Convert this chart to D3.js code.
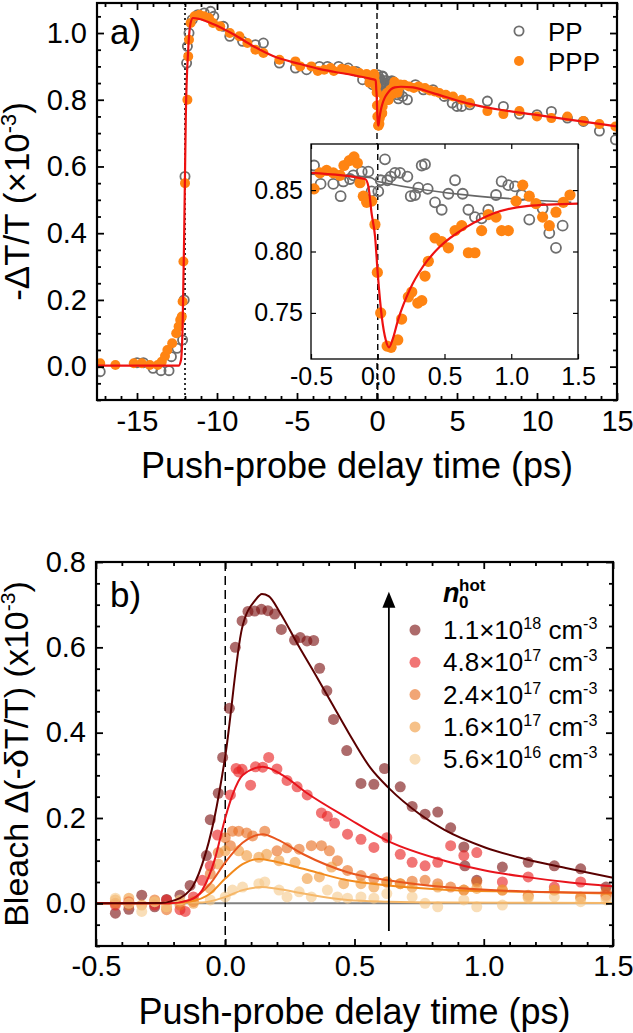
<!DOCTYPE html>
<html><head><meta charset="utf-8">
<script src="https://cdn.jsdelivr.net/npm/d3@7"></script>
<style>
html,body{margin:0;padding:0;background:#fff;}
svg{display:block;}
</style>
</head><body>
<svg id="c" width="633" height="1033"></svg>
<script>
// ---------------- DATA : panel a ----------------
const ppMain = [[-17.3,-0.015],[-15.0,0.012],[-14.6,0.012],[-14.0,-0.005],[-13.5,-0.012],[-13.0,-0.012],[-12.85,0.03],[-12.5,0.055],[-12.15,0.08],[-12.05,0.2],[-12.0,0.57],[-11.9,0.91],[-11.85,0.96],[-11.75,1.0],[-11.55,1.04],[-11.2,1.055],[-10.8,1.06],[-10.4,1.065],[-10.2,1.05],[-9.6,1.02],[-9.2,0.99],[-8.4,0.975],[-7.6,0.965],[-7.1,0.97],[-6.1,0.91],[-5.1,0.895],[-4.4,0.89],[-3.6,0.9],[-3.1,0.9],[-2.4,0.9],[-1.8,0.895],[-1.3,0.885],[-0.9,0.86],[1.6,0.81],[1.9,0.80],[2.4,0.845],[2.9,0.83],[3.5,0.83],[4.2,0.81],[4.7,0.79],[5.0,0.78],[5.3,0.78],[5.8,0.785],[6.9,0.796],[7.9,0.78],[8.9,0.757],[10.0,0.755],[10.9,0.765],[11.9,0.745],[12.9,0.735],[13.9,0.706],[14.9,0.68]];
const pppMain = [[-17.3,0.01],[-16.35,0.005],[-15.2,0.01],[-14.7,0.01],[-14.2,0.005],[-13.7,0.005],[-13.45,0.015],[-13.25,0.032],[-13.1,0.05],[-12.8,0.07],[-12.55,0.1],[-12.4,0.12],[-12.3,0.14],[-12.2,0.15],[-12.15,0.195],[-12.1,0.315],[-12.0,0.55],[-11.85,0.80],[-11.8,0.93],[-11.75,0.98],[-11.65,1.03],[-11.4,1.05],[-11.1,1.055],[-10.8,1.05],[-10.5,1.045],[-10.25,1.03],[-9.8,1.02],[-9.2,1.0],[-8.6,0.99],[-8.1,0.97],[-7.6,0.95],[-7.1,0.94],[-6.1,0.92],[-5.1,0.915],[-4.8,0.90],[-4.1,0.90],[-3.7,0.886],[-3.3,0.89],[-2.9,0.895],[-2.7,0.886],[-2.2,0.893],[-1.9,0.89],[-1.5,0.886],[-1.1,0.88],[-0.65,0.877],[1.7,0.845],[2.0,0.84],[2.3,0.835],[2.6,0.84],[3.0,0.835],[3.3,0.828],[3.6,0.825],[3.9,0.82],[4.3,0.815],[4.75,0.81],[5.3,0.80],[5.8,0.79],[6.9,0.766],[7.9,0.757],[8.9,0.766],[10.0,0.75],[10.9,0.745],[11.9,0.75],[12.9,0.736],[13.9,0.727],[14.9,0.72]];
// points inside the inset window (also plotted in the main panel)
const ppNear = [[-0.477,0.870],[-0.428,0.855],[-0.333,0.855],[-0.278,0.845],[-0.258,0.857],[-0.208,0.859],[-0.183,0.862],[-0.120,0.865],[-0.071,0.865],[-0.046,0.849],[0.004,0.849],[0.022,0.858],[0.054,0.875],[0.072,0.858],[0.097,0.861],[0.129,0.864],[0.167,0.864],[0.222,0.861],[0.247,0.845],[0.279,0.846],[0.304,0.852],[0.329,0.870],[0.354,0.871],[0.374,0.851],[0.429,0.840],[0.479,0.834],[0.529,0.847],[0.579,0.858],[0.636,0.847],[0.679,0.834],[0.728,0.828],[0.778,0.827],[0.828,0.834],[0.886,0.846],[0.928,0.857],[0.978,0.854],[1.028,0.853],[1.078,0.846],[1.135,0.826],[1.235,0.835],[1.285,0.815],[1.335,0.803],[1.385,0.821]];
const pppNear = [[-0.477,0.851],[-0.433,0.864],[-0.383,0.866],[-0.333,0.864],[-0.283,0.862],[-0.253,0.870],[-0.213,0.874],[-0.178,0.877],[-0.153,0.872],[-0.133,0.856],[-0.108,0.845],[-0.083,0.840],[-0.045,0.841],[-0.021,0.822],[-0.003,0.783],[0.022,0.750],[0.07,0.723],[0.1,0.722],[0.15,0.728],[0.179,0.745],[0.229,0.763],[0.255,0.767],[0.30,0.758],[0.33,0.760],[0.354,0.780],[0.379,0.792],[0.429,0.811],[0.479,0.808],[0.529,0.803],[0.579,0.817],[0.629,0.821],[0.679,0.799],[0.728,0.799],[0.778,0.817],[0.828,0.830],[0.886,0.828],[0.928,0.817],[0.978,0.817],[1.036,0.841],[1.086,0.854],[1.135,0.845],[1.185,0.839],[1.235,0.828],[1.285,0.821],[1.335,0.832],[1.390,0.840],[1.440,0.846]];
const pppFit = [[-17.5,0.003],[-12.4,0.003],[-12.25,0.02],[-12.15,0.12],[-12.05,0.4],[-11.95,0.75],[-11.8,0.95],[-11.65,1.03],[-11.5,1.045],[-11.1,1.042],[-10.25,1.027],[-9.0,0.997],[-7.75,0.961],[-6.5,0.931],[-4.8,0.907],[-3.56,0.892],[-2.7,0.884],[-1.5,0.874],[-0.5,0.864],[-0.095,0.859],[-0.07,0.853],[-0.046,0.831],[-0.02,0.812],[0,0.782],[0.03,0.747],[0.06,0.728],[0.085,0.722],[0.11,0.728],[0.154,0.745],[0.24,0.769],[0.34,0.788],[0.466,0.804],[0.666,0.82],[0.866,0.831],[1.115,0.837],[1.5,0.839],[2.25,0.837],[3.5,0.82],[5.6,0.79],[7.7,0.77],[9.75,0.756],[11.9,0.741],[15,0.72]];
const ppFitInset = [[-0.5,0.863],[-0.05,0.860],[0.0,0.857],[1.45,0.840]];
const aXTicks = [-15,-10,-5,0,5,10,15];
const aYTicks = [0.0,0.2,0.4,0.6,0.8,1.0];
const insetXTicks = [-0.5,0.0,0.5,1.0,1.5];
const insetYTicks = [0.75,0.80,0.85];
const aLegend = ["PP","PPP"];

// ---------------- DATA : panel b ----------------
const densities = [
  [{t:"1.1×10"},{t:"18",sup:1},{t:" cm"},{t:"-3",sup:1}],
  [{t:"4.8×10"},{t:"17",sup:1},{t:" cm"},{t:"-3",sup:1}],
  [{t:"2.4×10"},{t:"17",sup:1},{t:" cm"},{t:"-3",sup:1}],
  [{t:"1.6×10"},{t:"17",sup:1},{t:" cm"},{t:"-3",sup:1}],
  [{t:"5.6×10"},{t:"16",sup:1},{t:" cm"},{t:"-3",sup:1}]
];
const b1Points = [[-0.425,-0.023],[-0.373,-0.014],[-0.323,0.019],[-0.273,-0.008],[-0.227,0.009],[-0.175,0.019],[-0.136,0.042],[-0.073,0.112],[-0.058,0.196],[-0.027,0.258],[-0.01,0.342],[0.016,0.457],[0.039,0.60],[0.065,0.662],[0.088,0.684],[0.114,0.685],[0.140,0.689],[0.165,0.686],[0.191,0.678],[0.217,0.642],[0.268,0.617],[0.290,0.623],[0.316,0.615],[0.342,0.616],[0.365,0.551],[0.393,0.498],[0.419,0.431],[0.47,0.358],[0.525,0.281],[0.575,0.279],[0.616,0.316],[0.677,0.273],[0.723,0.227],[0.773,0.209],[0.822,0.214],[0.872,0.177],[0.923,0.132],[0.927,0.088],[0.973,0.054],[1.072,0.085],[1.172,0.096],[1.273,0.088],[1.375,0.081],[1.473,0.038]];
const b2Points = [[-0.425,-0.004],[-0.373,0.004],[-0.273,-0.004],[-0.227,0.008],[-0.175,-0.015],[-0.155,-0.019],[-0.123,0.015],[-0.089,0.054],[-0.058,0.088],[-0.03,0.16],[0.02,0.254],[0.042,0.316],[0.052,0.308],[0.065,0.314],[0.098,0.277],[0.117,0.32],[0.145,0.319],[0.168,0.342],[0.2,0.315],[0.239,0.288],[0.278,0.273],[0.317,0.254],[0.372,0.212],[0.395,0.204],[0.423,0.188],[0.473,0.162],[0.525,0.15],[0.575,0.131],[0.625,0.154],[0.677,0.115],[0.723,0.096],[0.773,0.088],[0.822,0.096],[0.872,0.135],[0.923,0.112],[0.973,0.119],[1.072,0.05],[1.172,0.062],[1.273,0.038],[1.375,0.05],[1.473,0.019]];
const b3Points = [[-0.425,0.0],[-0.373,-0.004],[-0.273,0.008],[-0.227,-0.015],[-0.175,-0.004],[-0.123,0.004],[-0.058,0.069],[-0.027,0.119],[0,0.154],[0.02,0.135],[0.028,0.169],[0.052,0.169],[0.083,0.165],[0.106,0.158],[0.153,0.169],[0.2,0.123],[0.239,0.13],[0.286,0.127],[0.333,0.135],[0.372,0.135],[0.403,0.123],[0.434,0.1],[0.473,0.077],[0.525,0.065],[0.575,0.058],[0.625,0.05],[0.677,0.046],[0.723,0.052],[0.773,0.054],[0.822,0.046],[0.872,0.038],[0.923,0.031],[0.973,0.05],[1.072,0.031],[1.172,0.019],[1.273,0.031],[1.375,0.015],[1.473,0.027]];
const b4Points = [[-0.425,0.008],[-0.373,0.012],[-0.323,-0.004],[-0.273,0.004],[-0.227,-0.008],[-0.175,0.004],[-0.123,0.0],[-0.058,0.035],[-0.027,0.092],[0,0.123],[0.052,0.123],[0.083,0.112],[0.13,0.108],[0.16,0.115],[0.208,0.1],[0.27,0.096],[0.317,0.058],[0.364,0.062],[0.411,0.085],[0.458,0.046],[0.525,0.046],[0.575,0.038],[0.625,0.05],[0.677,0.046],[0.723,0.038],[0.822,0.038],[0.923,0.031],[0.973,0.035],[1.072,0.031],[1.172,0.015],[1.273,0.031],[1.375,0.012],[1.473,0.015]];
const b5Points = [[-0.425,0.012],[-0.373,0.0],[-0.323,-0.019],[-0.273,0.004],[-0.227,-0.008],[-0.175,0.008],[-0.058,0.008],[0,0.015],[0.028,0.031],[0.067,0.038],[0.13,0.046],[0.153,0.05],[0.208,0.031],[0.239,0.015],[0.286,0.027],[0.333,0.015],[0.395,0.031],[0.434,0.015],[0.473,0.012],[0.525,0.015],[0.575,0.012],[0.625,0.023],[0.723,0.015],[0.773,0.0],[0.822,-0.008],[0.923,0.008],[0.973,-0.008],[1.072,-0.004],[1.172,0.012],[1.273,0.015],[1.375,0.004],[1.473,0.008]];
const b1Fit = [[-0.5,0],[-0.25,0.001],[-0.214,0.004],[-0.136,0.031],[-0.089,0.092],[-0.042,0.2],[0,0.345],[0.065,0.645],[0.117,0.711],[0.142,0.725],[0.168,0.72],[0.213,0.68],[0.284,0.603],[0.348,0.537],[0.412,0.469],[0.477,0.40],[0.561,0.318],[0.633,0.27],[0.75,0.21],[0.848,0.172],[1.005,0.131],[1.16,0.104],[1.317,0.083],[1.5,0.06]];
const b2Fit = [[-0.5,0],[-0.214,0.0],[-0.136,0.008],[-0.089,0.031],[-0.042,0.1],[0,0.2],[0.028,0.254],[0.067,0.3],[0.145,0.32],[0.223,0.3],[0.317,0.258],[0.473,0.2],[0.63,0.146],[0.848,0.1],[1.005,0.077],[1.16,0.062],[1.317,0.05],[1.5,0.04]];
const b3Fit = [[-0.5,0],[-0.214,0.0],[-0.136,0.008],[-0.058,0.046],[0,0.096],[0.067,0.142],[0.145,0.162],[0.2,0.15],[0.302,0.115],[0.473,0.073],[0.63,0.054],[0.848,0.038],[1.16,0.028],[1.5,0.025]];
const b4Fit = [[-0.5,0],[-0.214,0.0],[-0.136,0.004],[-0.058,0.023],[0,0.058],[0.067,0.092],[0.13,0.104],[0.2,0.097],[0.302,0.081],[0.473,0.054],[0.63,0.042],[0.848,0.032],[1.16,0.027],[1.5,0.023]];
const b5Fit = [[-0.5,0],[-0.089,0.002],[0,0.015],[0.067,0.031],[0.138,0.038],[0.2,0.034],[0.302,0.023],[0.473,0.008],[0.63,0.004],[0.848,0.002],[1.5,0.001]];
const bXTicks = [-0.5,0.0,0.5,1.0,1.5];
const bYTicks = [0.0,0.2,0.4,0.6,0.8];
const arrowT = 0.633, arrowFrom = -0.065, arrowTo = 0.73;

// ---------------- STYLE ----------------
const FONT = '"Liberation Sans", Arial, Helvetica, sans-serif';
const ORANGE = "#ff8412", GRAYPT = "#6e6e6e", FITRED = "#ee1111";
const ptColors = ["#7a1010","#e82020","#e86d20","#f09b3f","#f5c98c"];
const lnColors = ["#5a0000","#e8141c","#e8561e","#f28a1c","#f6b86a"];

const svg = d3.select("#c");
const fmtDash = f => (v => { const s = d3.format(f)(v); return s.replace("−","-"); });

function richText(sel, parts, fs){
  let shift = 0;
  parts.forEach(p => {
    const ts = sel.append("tspan").text(p.t);
    if (p.sup){ const s = -fs*0.38; ts.attr("font-size", fs*0.62).attr("dy", s-shift); shift = s; }
    else { ts.attr("dy", -shift); shift = 0; }
  });
}

function drawAxes(g, x, y, o){
  const [x0,x1] = x.range(), [y0,y1] = y.range();
  const mk = (fn, sc, vals, size, fmt, tr, pad, fs) => {
    const a = fn(sc).tickValues(vals).tickSize(size).tickPadding(pad).tickFormat(fmt || (()=>""));
    const gg = g.append("g").attr("transform", tr).call(a);
    gg.select(".domain").remove();
    gg.selectAll("line").attr("stroke","#000").attr("stroke-width", o.tw);
    gg.selectAll("text").attr("font-size", fs||o.fs).attr("font-family", FONT).attr("fill","#000");
    return gg;
  };
  mk(d3.axisBottom, x, o.xMajor, -o.maj, o.xFmt, `translate(0,${y0})`, o.xPad);
  mk(d3.axisTop,    x, o.xMajor, -o.maj, null, `translate(0,${y1})`, 0);
  mk(d3.axisLeft,   y, o.yMajor, -o.maj, o.yFmt, `translate(${x0},0)`, o.yPad);
  mk(d3.axisRight,  y, o.yMajor, -o.maj, null, `translate(${x1},0)`, 0);
  if (o.xMinor){
    mk(d3.axisBottom, x, o.xMinor, -o.min, null, `translate(0,${y0})`, 0);
    mk(d3.axisTop,    x, o.xMinor, -o.min, null, `translate(0,${y1})`, 0);
  }
  if (o.yMinor){
    mk(d3.axisLeft,  y, o.yMinor, -o.min, null, `translate(${x0},0)`, 0);
    mk(d3.axisRight, y, o.yMinor, -o.min, null, `translate(${x1},0)`, 0);
  }
  g.append("rect").attr("x",x0).attr("y",y1).attr("width",x1-x0).attr("height",y0-y1)
    .attr("fill","none").attr("stroke","#000").attr("stroke-width",o.fw);
}

// ================= PANEL A =================
const A = {l:97, r:617, t:3, b:400};
const xA = d3.scaleLinear().domain([-17.5,15]).range([A.l,A.r]);
const yA = d3.scaleLinear().domain([-0.1,1.09]).range([A.b,A.t]);
const gA = svg.append("g");
svg.append("defs").append("clipPath").attr("id","clipA").append("rect")
  .attr("x",A.l).attr("y",A.t).attr("width",A.r-A.l).attr("height",A.b-A.t);

gA.append("line").attr("x1",xA(-12)).attr("x2",xA(-12)).attr("y1",A.t).attr("y2",A.b)
  .attr("stroke","#000").attr("stroke-width",1.6).attr("stroke-dasharray","2,3");
gA.append("line").attr("x1",xA(0)).attr("x2",xA(0)).attr("y1",A.t).attr("y2",A.b)
  .attr("stroke","#000").attr("stroke-width",1.4).attr("stroke-dasharray","6,4");

const ppAll = ppMain.concat(ppNear).sort((a,b)=>a[0]-b[0]);
const pppAll = pppMain.concat(pppNear).sort((a,b)=>a[0]-b[0]);
const gAd = gA.append("g").attr("clip-path","url(#clipA)");
gAd.selectAll("circle.pp").data(ppAll).join("circle").attr("class","pp")
  .attr("cx",d=>xA(d[0])).attr("cy",d=>yA(d[1])).attr("r",4.6)
  .attr("fill","none").attr("stroke",GRAYPT).attr("stroke-width",1.8);
gAd.selectAll("circle.ppp").data(pppAll).join("circle").attr("class","ppp")
  .attr("cx",d=>xA(d[0])).attr("cy",d=>yA(d[1])).attr("r",5)
  .attr("fill",ORANGE);
const lineA = d3.line().x(d=>xA(d[0])).y(d=>yA(d[1])).curve(d3.curveMonotoneX);
gAd.append("path").datum(pppFit).attr("d",lineA).attr("fill","none").attr("stroke",FITRED).attr("stroke-width",2.2);

drawAxes(gA, xA, yA, {
  xMajor:aXTicks, xMinor:d3.range(-17,16).filter(v=>v%5!==0),
  yMajor:aYTicks, yMinor:d3.range(-2,22).filter(i=>i%4!==0).map(i=>i*0.05),
  xFmt:fmtDash("d"), yFmt:fmtDash(".1f"), fs:29, maj:7, min:4, tw:1.8, fw:2.2, xPad:10, yPad:10
});

const legA = gA.append("g");
legA.append("circle").attr("cx",519).attr("cy",31).attr("r",4.6).attr("fill","none").attr("stroke",GRAYPT).attr("stroke-width",1.8);
legA.append("circle").attr("cx",519).attr("cy",61).attr("r",5).attr("fill",ORANGE);
legA.selectAll("text").data(aLegend).join("text").attr("x",548).attr("y",(d,i)=>41+i*30)
  .attr("font-size",26).attr("font-family",FONT).text(d=>d);

gA.append("text").attr("x",110).attr("y",44).attr("font-size",35).attr("font-family",FONT).text("a)");

// ---- inset ----
const I = {l:311, r:578, t:144, b:359};
const xI = d3.scaleLinear().domain([-0.5,1.5]).range([I.l,I.r]);
const yI = d3.scaleLinear().domain([0.7125,0.8875]).range([I.b,I.t]);
const gI = svg.append("g");
gI.append("rect").attr("x",I.l).attr("y",I.t).attr("width",I.r-I.l).attr("height",I.b-I.t).attr("fill","#fff");
svg.select("defs").append("clipPath").attr("id","clipI").append("rect")
  .attr("x",I.l).attr("y",I.t).attr("width",I.r-I.l).attr("height",I.b-I.t);
gI.append("line").attr("x1",xI(0)).attr("x2",xI(0)).attr("y1",I.t).attr("y2",A.b)
  .attr("stroke","#000").attr("stroke-width",1.4).attr("stroke-dasharray","6,4");
const gId = gI.append("g").attr("clip-path","url(#clipI)");
const lineI = d3.line().x(d=>xI(d[0])).y(d=>yI(d[1])).curve(d3.curveMonotoneX);
gId.selectAll("circle.pp").data(ppNear).join("circle").attr("class","pp")
  .attr("cx",d=>xI(d[0])).attr("cy",d=>yI(d[1])).attr("r",5)
  .attr("fill","none").attr("stroke",GRAYPT).attr("stroke-width",1.8);
gId.append("path").datum(ppFitInset).attr("d",lineI).attr("fill","none").attr("stroke","#666").attr("stroke-width",1.6);
gId.selectAll("circle.ppp").data(pppNear).join("circle").attr("class","ppp")
  .attr("cx",d=>xI(d[0])).attr("cy",d=>yI(d[1])).attr("r",5.6).attr("fill",ORANGE);
gId.append("path").datum(pppFit.filter(d=>d[0]>=-0.6&&d[0]<=1.6)).attr("d",lineI).attr("fill","none").attr("stroke",FITRED).attr("stroke-width",2.2);
drawAxes(gI, xI, yI, {
  xMajor:insetXTicks, yMajor:insetYTicks,
  xFmt:fmtDash(".1f"), yFmt:fmtDash(".2f"), fs:25, maj:5, min:3, tw:1.2, fw:1.3, xPad:8, yPad:8
});

const ta = svg.append("text").attr("font-family",FONT).attr("font-size",35).attr("text-anchor","middle")
  .attr("transform",`translate(29,${(A.t+A.b)/2}) rotate(-90)`).attr("dy","0.35em");
richText(ta, [{t:"-ΔT/T (×10"},{t:"-3",sup:1},{t:")"}], 35);
svg.append("text").attr("font-family",FONT).attr("font-size",36).attr("text-anchor","middle")
  .attr("x",(A.l+A.r)/2).attr("y",465).attr("dy","0.35em").text("Push-probe delay time (ps)");

// ================= PANEL B =================
const B = {l:96, r:613, t:562, b:946};
const xB = d3.scaleLinear().domain([-0.5,1.5]).range([B.l,B.r]);
const yB = d3.scaleLinear().domain([-0.1,0.8]).range([B.b,B.t]);
const gB = svg.append("g");
svg.select("defs").append("clipPath").attr("id","clipB").append("rect")
  .attr("x",B.l).attr("y",B.t).attr("width",B.r-B.l).attr("height",B.b-B.t);
const gBd = gB.append("g").attr("clip-path","url(#clipB)");
gBd.append("line").attr("x1",xB(-0.5)).attr("x2",xB(1.5)).attr("y1",yB(0)).attr("y2",yB(0))
  .attr("stroke","#808080").attr("stroke-width",2);
gBd.append("line").attr("x1",xB(0)).attr("x2",xB(0)).attr("y1",B.t).attr("y2",B.b)
  .attr("stroke","#000").attr("stroke-width",1.5).attr("stroke-dasharray","9,5");

const bPoints = [b1Points,b2Points,b3Points,b4Points,b5Points];
const bFits = [b1Fit,b2Fit,b3Fit,b4Fit,b5Fit];
bPoints.forEach((pts,i)=>{
  gBd.append("g").selectAll("circle").data(pts).join("circle")
    .attr("cx",d=>xB(d[0])).attr("cy",d=>yB(d[1])).attr("r",5.5)
    .attr("fill",ptColors[i]).attr("fill-opacity",0.62);
});
const lineB = d3.line().x(d=>xB(d[0])).y(d=>yB(d[1])).curve(d3.curveMonotoneX);
bFits.slice().reverse().forEach((f,j)=>{
  const i = bFits.length-1-j;
  gBd.append("path").datum(f).attr("d",lineB).attr("fill","none").attr("stroke",lnColors[i]).attr("stroke-width",2);
});

const ax0 = xB(arrowT), ayTip = yB(arrowTo);
gB.append("line").attr("x1",ax0).attr("x2",ax0).attr("y1",yB(arrowFrom)).attr("y2",ayTip+12)
  .attr("stroke","#000").attr("stroke-width",1.8);
gB.append("path").attr("d",`M${ax0},${ayTip} L${ax0-6.5},${ayTip+16} L${ax0+6.5},${ayTip+16} Z`).attr("fill","#000");

drawAxes(gB, xB, yB, {
  xMajor:bXTicks, xMinor:d3.range(-4,15).filter(i=>i%5!==0).map(i=>i*0.1),
  yMajor:bYTicks, yMinor:d3.range(-2,16).filter(i=>i%4!==0).map(i=>i*0.05),
  xFmt:fmtDash(".1f"), yFmt:fmtDash(".1f"), fs:29, maj:7, min:4, tw:1.8, fw:2.2, xPad:9, yPad:10
});

gB.append("text").attr("x",110).attr("y",607).attr("font-size",35).attr("font-family",FONT).text("b)");

const legB = gB.append("g").attr("font-family",FONT);
legB.append("text").attr("x",443).attr("y",602).attr("font-size",27).attr("font-weight","bold").attr("font-style","italic").text("n");
legB.append("text").attr("x",459).attr("y",608).attr("font-size",17).attr("font-weight","bold").text("0");
legB.append("text").attr("x",459).attr("y",591).attr("font-size",17).attr("font-weight","bold").text("hot");
densities.forEach((parts,i)=>{
  const cy = 630 + i*32.3;
  legB.append("circle").attr("cx",415).attr("cy",cy).attr("r",5.5).attr("fill",ptColors[i]).attr("fill-opacity",0.62);
  const t = legB.append("text").attr("x",443).attr("y",cy+9).attr("font-size",26);
  richText(t, parts, 26);
});

const tb = svg.append("text").attr("font-family",FONT).attr("font-size",34).attr("text-anchor","middle")
  .attr("transform",`translate(28,${(B.t+B.b)/2}) rotate(-90)`).attr("dy","0.35em");
richText(tb, [{t:"Bleach Δ(-δT/T) (x10"},{t:"-3",sup:1},{t:")"}], 34);
svg.append("text").attr("font-family",FONT).attr("font-size",36).attr("text-anchor","middle")
  .attr("x",(B.l+B.r)/2).attr("y",1011).attr("dy","0.35em").text("Push-probe delay time (ps)");
</script>
</body></html>
